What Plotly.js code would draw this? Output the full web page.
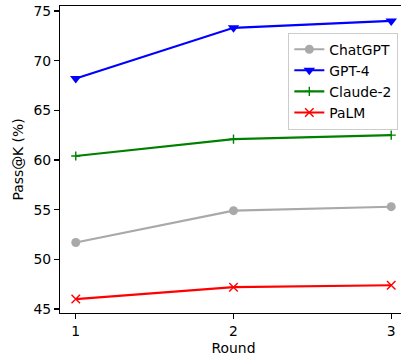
<!DOCTYPE html>
<html>
<head>
<meta charset="utf-8">
<script src="https://cdn.plot.ly/plotly-3.0.1.min.js"></script>
<style>
html,body{margin:0;padding:0;overflow:hidden;background:#fff;width:401px;height:356px;}
#chart{width:420px;height:356px;}
</style>
</head>
<body>
<div id="chart"></div>
<script>
const rounds = [1, 2, 3];
const chatgpt = [51.7, 54.9, 55.3];
const gpt4 = [68.2, 73.3, 74.0];
const claude2 = [60.4, 62.1, 62.5];
const palm = [46.0, 47.2, 47.4];
const yTicks = [45, 50, 55, 60, 65, 70, 75];

const font = {family: "DejaVu Sans", size: 13.9, color: "#000"};

const traces = [
  {x: rounds, y: chatgpt, name: "ChatGPT", mode: "lines+markers",
   line: {color: "#a9a9a9", width: 2.1},
   marker: {symbol: "circle", size: 9, color: "#a9a9a9"}},
  {x: rounds, y: gpt4, name: "GPT-4", mode: "lines+markers",
   line: {color: "#0000ff", width: 2.1},
   marker: {symbol: "triangle-down", size: 10, color: "#0000ff"}},
  {x: rounds, y: claude2, name: "Claude-2", mode: "lines+markers",
   line: {color: "#008000", width: 2.1},
   marker: {symbol: "cross-thin", size: 6.5, color: "#008000", line: {color: "#008000", width: 1.4}}},
  {x: rounds, y: palm, name: "PaLM", mode: "lines+markers",
   line: {color: "#ff0000", width: 2.1},
   marker: {symbol: "x-thin", size: 8.5, color: "#ff0000", line: {color: "#ff0000", width: 1.4}}}
];

const layout = {
  width: 420, height: 356,
  margin: {l: 60, r: 13.3, t: 6, b: 42.7},
  paper_bgcolor: "#fff", plot_bgcolor: "#fff",
  font: font,
  showlegend: true,
  legend: {x: 0.658, y: 0.913, xanchor: "left", yanchor: "top",
           bgcolor: "rgba(255,255,255,0.8)", bordercolor: "#cccccc", borderwidth: 1,
           font: font, tracegroupgap: 0},
  xaxis: {range: [0.9, 3.1], tickvals: rounds, ticktext: rounds.map(String),
          showgrid: false, zeroline: false, showline: true, mirror: true,
          linecolor: "#000", linewidth: 1.1, ticks: "outside", ticklen: 5,
          tickwidth: 1.1, tickcolor: "#000",
          title: {text: "Round", font: font, standoff: 6}},
  yaxis: {range: [44.6, 75.5], tickvals: yTicks, ticktext: yTicks.map(String),
          showgrid: false, zeroline: false, showline: true, mirror: true,
          linecolor: "#000", linewidth: 1.1, ticks: "outside", ticklen: 5,
          tickwidth: 1.1, tickcolor: "#000",
          title: {text: "Pass@K (%)", font: font, standoff: 6}}
};

Plotly.newPlot("chart", traces, layout, {staticPlot: true, displayModeBar: false});
</script>
</body>
</html>
